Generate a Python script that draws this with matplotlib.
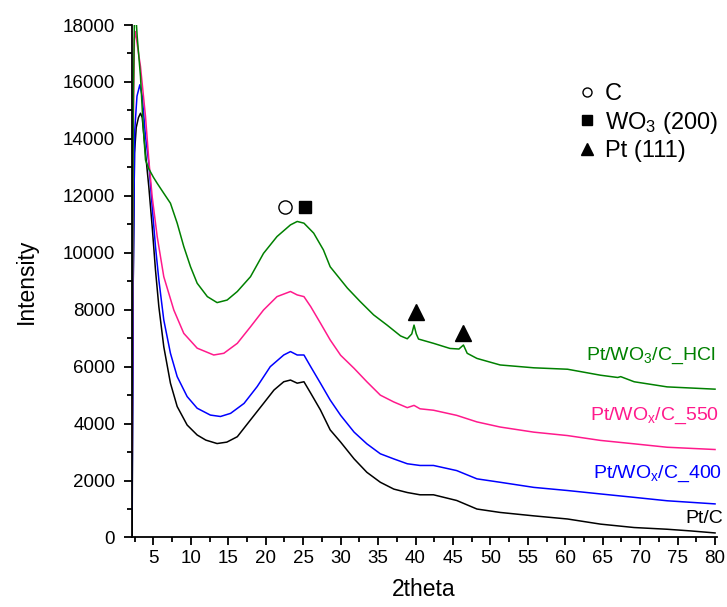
import matplotlib
matplotlib.use("Agg")
import matplotlib.pyplot as plt
from matplotlib.lines import Line2D
from matplotlib.ticker import MultipleLocator

plt.rcParams['font.family'] = ['Liberation Sans', 'DejaVu Sans']
plt.rcParams['mathtext.fontset'] = 'custom'
plt.rcParams['mathtext.rm'] = 'Liberation Sans'
plt.rcParams['mathtext.it'] = 'Liberation Sans'

# ---------------- data ----------------
ptc_x = [2.15, 2.3, 2.47, 2.7, 3.0, 3.27, 3.5, 3.94, 4.38, 4.83, 5.27, 5.72, 6.38, 7.27, 8.17,
         9.5, 10.84, 12.0, 13.5, 14.8, 16.2, 17.96, 19.7, 21.1, 22.4, 23.3, 24.2, 25.1, 26.0,
         27.3, 28.6, 30.0, 31.8, 33.5, 35.3, 37.1, 38.9, 40.6, 42.4, 45.5, 48.2, 51.3, 55.8,
         60.3, 64.7, 69.2, 73.6, 76.8, 80.0]
ptc_y = [0, 9000, 13500, 14400, 14750, 14900, 14750, 13500, 12320, 10920, 9400, 8110, 6700,
         5420, 4600, 3950, 3600, 3420, 3300, 3350, 3540, 4130, 4710, 5180, 5470, 5530, 5420,
         5470, 5070, 4480, 3780, 3350, 2760, 2290, 1940, 1700, 1580, 1500, 1500, 1300, 1000,
         880, 760, 650, 470, 350, 290, 230, 160]

w400_x = [2.15, 2.3, 2.5, 2.8, 3.18, 3.5, 3.94, 4.38, 4.83, 5.27, 5.72, 6.38, 7.27, 8.17, 9.5,
          10.84, 12.6, 13.95, 15.3, 17.1, 18.85, 20.6, 22.4, 23.3, 24.2, 25.1, 26.0, 27.3, 28.6,
          30.0, 31.8, 33.5, 35.3, 37.1, 38.9, 40.6, 42.4, 45.5, 48.2, 51.3, 55.8, 60.3, 64.7,
          69.2, 73.6, 80.0]
w400_y = [1000, 9000, 14300, 15500, 15900, 15500, 14080, 13150, 11620, 10220, 9050, 7640, 6470,
          5650, 4950, 4540, 4300, 4250, 4360, 4710, 5300, 6000, 6410, 6530, 6410, 6410, 6000,
          5420, 4830, 4290, 3700, 3290, 2940, 2760, 2590, 2530, 2530, 2350, 2060, 1940, 1760,
          1650, 1530, 1410, 1290, 1180]

w550_x = [2.15, 2.3, 2.45, 2.6, 2.9, 3.27, 3.94, 4.38, 4.83, 5.5, 6.38, 7.72, 9.05, 10.84,
          13.05, 14.4, 16.2, 17.96, 19.7, 21.5, 23.3, 24.2, 25.1, 26.0, 27.3, 28.6, 30.0, 31.8,
          33.5, 35.3, 37.1, 38.9, 39.8, 40.6, 42.4, 45.5, 48.2, 51.3, 55.8, 60.3, 64.7, 69.2,
          73.6, 80.0]
w550_y = [3000, 14000, 17500, 17770, 17200, 16540, 14780, 13260, 11970, 10570, 9160, 7990,
          7170, 6650, 6410, 6470, 6820, 7400, 7990, 8460, 8640, 8520, 8460, 8110, 7530, 6940,
          6400, 5940, 5470, 5000, 4760, 4560, 4640, 4520, 4470, 4290, 4060, 3880, 3700, 3580,
          3410, 3290, 3170, 3090]

hcl_x = [2.15, 2.3, 2.5, 2.83, 3.27, 3.63, 3.94, 4.38, 5.0, 5.5, 6.38, 7.27, 8.17, 9.05, 9.95,
         10.84, 12.2, 13.5, 14.84, 16.2, 17.96, 19.7, 21.5, 23.3, 24.2, 25.1, 26.4, 27.7, 28.6,
         30.9, 32.6, 34.4, 36.2, 38.0, 38.9, 39.5, 39.8, 40.1, 40.4, 42.4, 44.6, 45.8, 46.4,
         46.9, 48.2, 51.3, 55.8, 60.3, 64.7, 67.0, 67.4, 69.2, 73.6, 80.0]
hcl_y = [4900, 15000, 19000, 17590, 16190, 14430, 13260, 12950, 12650, 12440, 12090, 11740,
         11040, 10220, 9510, 8930, 8460, 8250, 8340, 8640, 9160, 9980, 10570, 10980, 11100,
         11040, 10690, 10100, 9510, 8760, 8290, 7820, 7460, 7080, 6980, 7150, 7460, 7150, 6970,
         6820, 6640, 6620, 6760, 6470, 6290, 6060, 5960, 5910, 5700, 5620, 5650, 5470, 5290,
         5210]

series_names = ["Pt/C", "Pt/WO$_\\mathregular{x}$/C_400", "Pt/WO$_\\mathregular{x}$/C_550",
                "Pt/WO$_\\mathregular{3}$/C_HCl"]
series_colors = ["#000000", "#0000FF", "#FF1A8C", "#008000"]
label_x = [81.1, 80.9, 80.6, 80.1]
label_y = [650, 2230, 4270, 6380]

peak_x = [22.6, 25.2, 40.0, 46.4]
peak_y = [11620, 11620, 7930, 7165]
peak_kind = ["C", "WO3", "Pt", "Pt"]

legend_labels = ["C", "WO$_\\mathregular{3}$ (200)", "Pt (111)"]

# ---------------- figure ----------------
fig = plt.figure(figsize=(7.27, 6.07), dpi=100)
ax = fig.add_axes([0.1812, 0.1145, 0.8044, 0.8443])

xs = [ptc_x, w400_x, w550_x, hcl_x]
ys = [ptc_y, w400_y, w550_y, hcl_y]
for x, y, c in zip(xs, ys, series_colors):
    ax.plot(x, y, color=c, lw=1.1)

for name, c, lx, ly in zip(series_names, series_colors, label_x, label_y):
    ax.text(lx, ly, name, color=c, fontsize=14, ha='right', va='center', clip_on=False)

marker_style = {
    "C": dict(marker='o', mfc='white', mec='black', ms=9.5, mew=1.0),
    "WO3": dict(marker='s', mfc='black', mec='black', ms=8.5),
    "Pt": dict(marker='^', mfc='black', mec='black', ms=12),
}
for px_, py_, k in zip(peak_x, peak_y, peak_kind):
    ax.plot([px_], [py_], ls='none', **marker_style[k])

handles = [
    Line2D([], [], ls='none', marker='o', mfc='white', mec='black', ms=6.5, mew=1.0),
    Line2D([], [], ls='none', marker='s', mfc='black', mec='black', ms=7),
    Line2D([], [], ls='none', marker='^', mfc='black', mec='black', ms=9),
]
ax.legend(handles, legend_labels, loc='upper left',
          bbox_to_anchor=(0.767, 0.887), frameon=False, fontsize=17, handlelength=0.6,
          handletextpad=0.45, labelspacing=0.2, borderpad=0, borderaxespad=0)

ax.set_xlim(2.1, 80.2)
ax.set_ylim(0, 18000)
ax.xaxis.set_major_locator(MultipleLocator(5))
ax.xaxis.set_minor_locator(MultipleLocator(2.5))
ax.yaxis.set_major_locator(MultipleLocator(2000))
ax.yaxis.set_minor_locator(MultipleLocator(1000))
ax.set_xticks([5, 10, 15, 20, 25, 30, 35, 40, 45, 50, 55, 60, 65, 70, 75, 80])

for s in ['top', 'right']:
    ax.spines[s].set_visible(False)
for s in ['left', 'bottom']:
    ax.spines[s].set_linewidth(1.3)

ax.tick_params(axis='both', which='major', direction='out', length=6, width=1.3, labelsize=13.5)
ax.tick_params(axis='both', which='minor', direction='out', length=3.5, width=1.3)
ax.tick_params(axis='x', which='major', pad=3)
ax.tick_params(axis='y', which='major', pad=6)

ax.set_xlabel("2theta", fontsize=16.5, labelpad=8)
ax.set_ylabel("Intensity", fontsize=16.5, labelpad=18)

fig.savefig("out.png", dpi=100)
